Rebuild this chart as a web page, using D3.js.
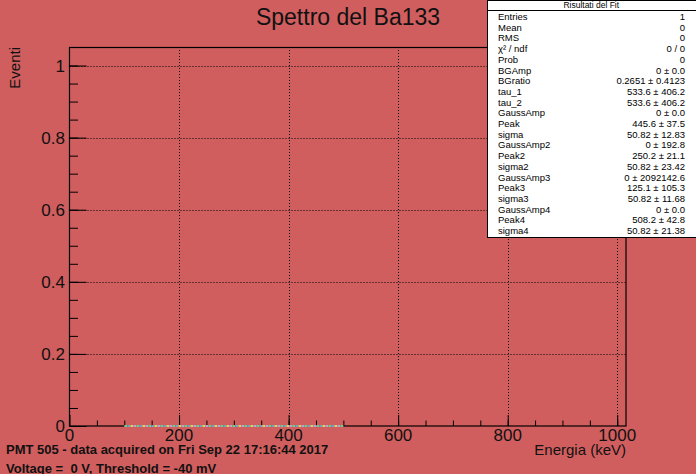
<!DOCTYPE html>
<html><head><meta charset="utf-8">
<script src="https://cdn.jsdelivr.net/npm/d3@7"></script>
<style>html,body{margin:0;padding:0;background:#d05e5e;}svg{display:block;}text{white-space:pre;}</style>
</head><body>
<script>
const title = "Spettro del Ba133";
const xTicks = [0, 200, 400, 600, 800, 1000];
const yTicks = [0, 0.2, 0.4, 0.6, 0.8, 1];
const xDomain = [0, 1016];
const yDomain = [0, 1.05];
const fitX = [100, 500];
const fitSeries = [
  {name: "fit", values: [0, 0], color: "#7fc97f"},
  {name: "bg", values: [0, 0], color: "#7f9fbf"},
  {name: "g1", values: [0, 0], color: "#e0d060"},
  {name: "g2", values: [0, 0], color: "#c0a0d0"}
];
const statsLabels = ["Entries","Mean","RMS","χ² / ndf","Prob","BGAmp","BGratio","tau_1","tau_2","GaussAmp","Peak","sigma","GaussAmp2","Peak2","sigma2","GaussAmp3","Peak3","sigma3","GaussAmp4","Peak4","sigma4"];
const statsValues = ["1","0","0","0 / 0","0","0 ± 0.0","0.2651 ± 0.4123","533.6 ± 406.2","533.6 ± 406.2","0 ± 0.0","445.6 ± 37.5","50.82 ± 12.83","0 ± 192.8","250.2 ± 21.1","50.82 ± 23.42","0 ± 2092142.6","125.1 ± 105.3","50.82 ± 11.68","0 ± 0.0","508.2 ± 42.8","50.82 ± 21.38"];
const footer1 = "PMT 505 - data acquired on Fri Sep 22 17:16:44 2017";
const footer2 = "Voltage =  0 V, Threshold = -40 mV";

const W = 696, H = 474;
const L = 69.5, R = 626, T = 47.5, B = 426;
const font = "'Liberation Sans', Arial, sans-serif";
const svg = d3.select("body").append("svg").attr("width", W).attr("height", H);
svg.append("rect").attr("width", W).attr("height", H).attr("fill", "#d05e5e");

const x = d3.scaleLinear().domain(xDomain).range([L, R]);
const y = d3.scaleLinear().domain(yDomain).range([B, T]);

// grid
const g = svg.append("g").attr("stroke", "#000").attr("stroke-width", 1).attr("stroke-dasharray", "1,2");
xTicks.filter(d => d > 0).forEach(d => {
  g.append("line").attr("x1", Math.round(x(d)) + 0.5).attr("x2", Math.round(x(d)) + 0.5).attr("y1", B).attr("y2", T);
});
yTicks.filter(d => d > 0).forEach(d => {
  g.append("line").attr("y1", Math.round(y(d)) + 0.5).attr("y2", Math.round(y(d)) + 0.5).attr("x1", L).attr("x2", R);
});

// axes with inward ticks
const xAxisMajor = d3.axisTop(x).tickValues(xTicks).tickSize(11).tickFormat("");
const xAxisMinor = d3.axisTop(x).tickValues(d3.range(50, 1001, 50)).tickSize(5.5).tickFormat("");
const yAxisMajor = d3.axisRight(y).tickValues(yTicks).tickSize(17).tickFormat("");
const yAxisMinor = d3.axisRight(y).tickValues(d3.range(0.05, 1.0001, 0.05)).tickSize(8.5).tickFormat("");
function styleAx(sel) { sel.select(".domain").remove(); sel.selectAll("line").attr("stroke", "#000"); }
svg.append("g").attr("transform", `translate(0,${B})`).call(xAxisMajor).call(styleAx);
svg.append("g").attr("transform", `translate(0,${B})`).call(xAxisMinor).call(styleAx);
svg.append("g").attr("transform", `translate(${L},0)`).call(yAxisMajor).call(styleAx);
svg.append("g").attr("transform", `translate(${L},0)`).call(yAxisMinor).call(styleAx);

// frame
svg.append("rect").attr("x", L).attr("y", T).attr("width", R - L).attr("height", B - T)
  .attr("fill", "none").attr("stroke", "#000").attr("stroke-width", 1.2);

// fit functions (all zero)
const line = d3.line().x((d, i) => x(fitX[i])).y(d => y(d));
fitSeries.forEach((s, k) => {
  svg.append("path").datum(s.values).attr("d", line).attr("fill", "none")
    .attr("stroke", s.color).attr("stroke-width", 2)
    .attr("stroke-dasharray", "3,9").attr("stroke-dashoffset", -3 * k);
});

// tick labels
xTicks.forEach(d => {
  svg.append("text").attr("x", x(d)).attr("y", 441).attr("text-anchor", "middle")
    .attr("font-family", font).attr("font-size", 17).attr("fill", "#111").text(d);
});
yTicks.forEach(d => {
  svg.append("text").attr("x", 65).attr("y", y(d) + 6).attr("text-anchor", "end")
    .attr("font-family", font).attr("font-size", 17).attr("fill", "#111").text(d === 0 ? "0" : d3.format("~g")(d));
});

// axis titles
svg.append("text").attr("x", 626).attr("y", 455).attr("text-anchor", "end")
  .attr("font-family", font).attr("font-size", 15).attr("fill", "#111").text("Energia (keV)");
svg.append("text").attr("transform", "translate(20,47) rotate(-90)").attr("text-anchor", "end")
  .attr("font-family", font).attr("font-size", 15).attr("fill", "#111").text("Eventi");

// title
svg.append("text").attr("x", 348).attr("y", 25).attr("text-anchor", "middle")
  .attr("font-family", font).attr("font-size", 23).attr("fill", "#111").text(title);

// stats box
const sx0 = 487.5, sx1 = 697, sy0 = 0.5, sy1 = 237.5;
svg.append("rect").attr("x", sx0).attr("y", sy0).attr("width", sx1 - sx0).attr("height", sy1 - sy0)
  .attr("fill", "#fff").attr("stroke", "#000").attr("stroke-width", 1);
svg.append("line").attr("x1", sx0).attr("x2", sx1).attr("y1", 10.5).attr("y2", 10.5).attr("stroke", "#000");
svg.append("text").attr("x", (sx0 + 695) / 2).attr("y", 8).attr("text-anchor", "middle")
  .attr("font-family", font).attr("font-size", 8.5).attr("fill", "#000").text("Risultati del Fit");
statsLabels.forEach((lab, i) => {
  const yy = 20 + i * 10.7;
  svg.append("text").attr("x", 498).attr("y", yy).attr("font-family", font).attr("font-size", 9.5)
    .attr("fill", "#000").text(lab);
  svg.append("text").attr("x", 685).attr("y", yy).attr("text-anchor", "end").attr("font-family", font)
    .attr("font-size", 9.5).attr("fill", "#000").text(statsValues[i]);
});

// footer
svg.append("text").attr("x", 6).attr("y", 454).attr("font-family", font).attr("font-weight", "bold")
  .attr("font-size", 13).attr("fill", "#111").text(footer1);
svg.append("text").attr("x", 6).attr("y", 473).attr("font-family", font).attr("font-weight", "bold")
  .attr("font-size", 13).attr("fill", "#111").attr("xml:space", "preserve").text(footer2);
</script>
</body></html>
